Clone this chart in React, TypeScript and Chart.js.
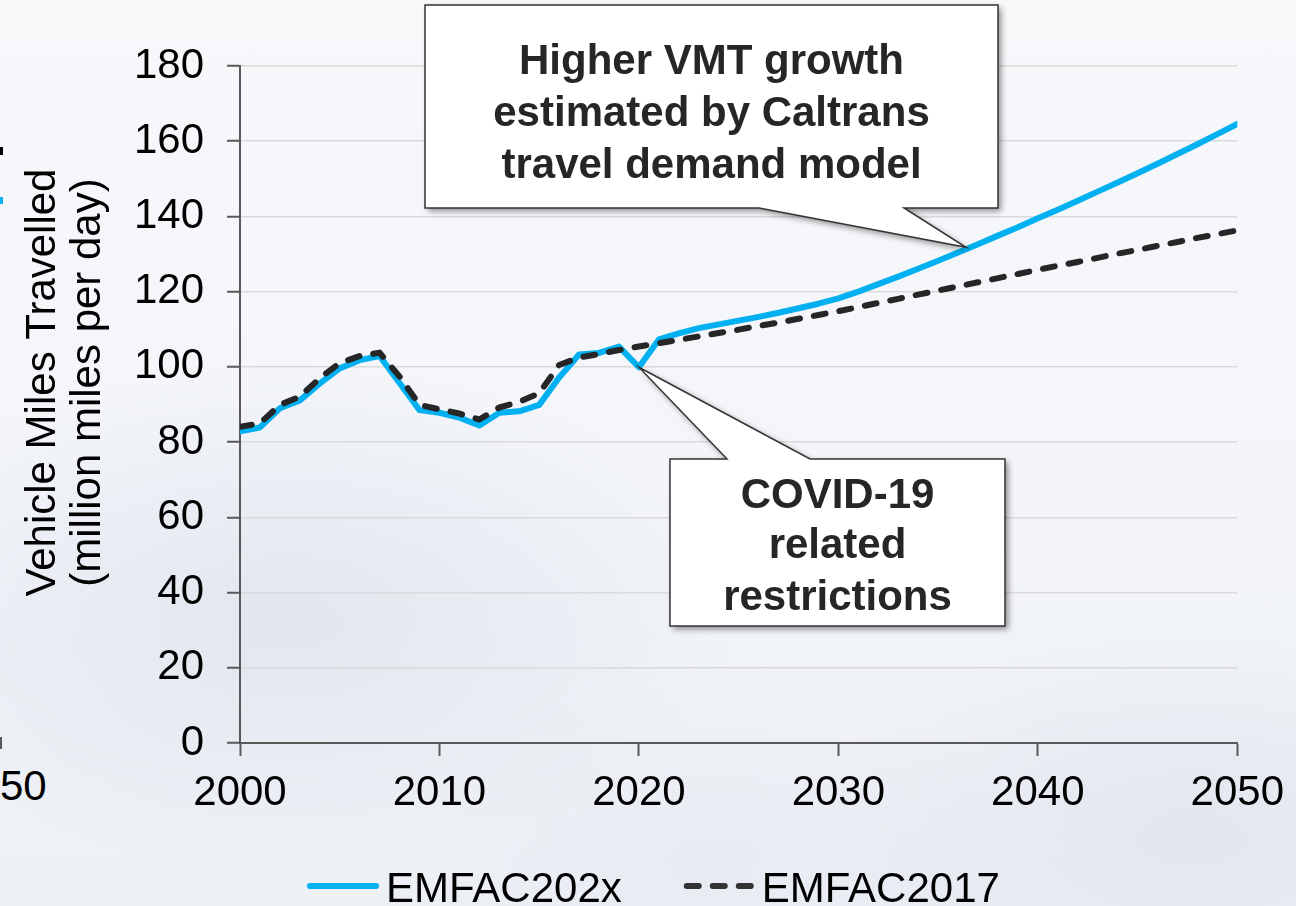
import React, { useEffect, useRef } from "react";
import { Chart, registerables } from "chart.js";

Chart.register(...registerables);

const YEARS = [
  2000, 2001, 2002, 2003, 2004, 2005, 2006, 2007, 2008, 2009,
  2010, 2011, 2012, 2013, 2014, 2015, 2016, 2017, 2018, 2019,
  2020, 2021, 2022, 2023, 2024, 2025, 2026, 2027, 2028, 2029,
  2030, 2031, 2032, 2033, 2034, 2035, 2036, 2037, 2038, 2039,
  2040, 2041, 2042, 2043, 2044, 2045, 2046, 2047, 2048, 2049,
  2050,
];

const EMFAC202X = [
  82.9, 83.9, 89.0, 91.1, 95.6, 99.6, 101.8, 102.9, 95.7, 88.5,
  87.8, 86.5, 84.4, 87.8, 88.2, 89.9, 97.2, 103.3, 103.7, 105.4,
  99.9, 107.3, 108.9, 110.3, 111.3, 112.3, 113.3, 114.4, 115.6, 116.8,
  118.2, 120.0, 122.0, 124.0, 126.1, 128.2, 130.4, 132.6, 134.9, 137.1,
  139.5, 141.8, 144.2, 146.6, 149.0, 151.5, 154.0, 156.6, 159.2, 161.9,
  164.6,
];

const EMFAC2017 = [
  84.1, 85.0, 89.9, 92.1, 97.0, 101.0, 102.9, 103.8, 97.4, 89.9,
  88.7, 87.6, 86.0, 89.2, 90.7, 93.0, 100.5, 102.5, 103.4, 104.5,
  105.4, 106.3, 107.2, 108.1, 109.0, 109.9, 110.9, 111.8, 112.8, 113.8,
  114.8, 115.9, 117.0, 118.1, 119.2, 120.3, 121.4, 122.5, 123.6, 124.7,
  125.8, 126.9, 127.9, 129.0, 130.1, 131.1, 132.2, 133.2, 134.3, 135.3,
  136.3,
];

const SERIES_NAMES = ["EMFAC202x", "EMFAC2017"];
const Y_TITLE = ["Vehicle Miles Travelled", "(million miles per day)"];
const X_MIN = 2000;
const X_MAX = 2050;
const X_STEP = 10;
const Y_MIN = 0;
const Y_MAX = 180;
const Y_STEP = 20;

const GROWTH_CALLOUT = ["Higher VMT growth", "estimated by Caltrans", "travel demand model"];
const GROWTH_TIP_YEAR = 2036.4;
const COVID_CALLOUT = ["COVID-19", "related", "restrictions"];
const COVID_YEAR = 2020;

const FONT = '"Liberation Sans", Arial, Helvetica, sans-serif';
const BLUE = "#00b0f0";
const DARK = "#262626";

function valueAt(year: number) {
  const i = Math.floor(year - YEARS[0]);
  const f = year - YEARS[i];
  const a = EMFAC202X[i];
  const b = EMFAC202X[Math.min(i + 1, EMFAC202X.length - 1)];
  return a + (b - a) * f;
}

type Box = { l: number; t: number; r: number; b: number };

function drawCallout(
  ctx: CanvasRenderingContext2D,
  box: Box,
  baseL: number,
  baseR: number,
  tip: { x: number; y: number },
  side: "top" | "bottom",
  lines: string[],
  baselines: number[]
) {
  ctx.save();
  ctx.beginPath();
  if (side === "bottom") {
    ctx.moveTo(box.l, box.t);
    ctx.lineTo(box.r, box.t);
    ctx.lineTo(box.r, box.b);
    ctx.lineTo(baseR, box.b);
    ctx.lineTo(tip.x, tip.y);
    ctx.lineTo(baseL, box.b);
    ctx.lineTo(box.l, box.b);
  } else {
    ctx.moveTo(box.l, box.t);
    ctx.lineTo(baseL, box.t);
    ctx.lineTo(tip.x, tip.y);
    ctx.lineTo(baseR, box.t);
    ctx.lineTo(box.r, box.t);
    ctx.lineTo(box.r, box.b);
    ctx.lineTo(box.l, box.b);
  }
  ctx.closePath();
  ctx.shadowColor = "rgba(0,0,0,0.45)";
  ctx.shadowBlur = 6;
  ctx.shadowOffsetX = 3;
  ctx.shadowOffsetY = 3;
  ctx.fillStyle = "#ffffff";
  ctx.fill();
  ctx.shadowColor = "transparent";
  ctx.lineWidth = 1.5;
  ctx.strokeStyle = "#333333";
  ctx.lineJoin = "miter";
  ctx.stroke();
  ctx.fillStyle = DARK;
  ctx.font = `bold 42px ${FONT}`;
  ctx.textAlign = "center";
  ctx.textBaseline = "alphabetic";
  const cx = (box.l + box.r) / 2;
  lines.forEach((ln, i) => ctx.fillText(ln, cx, baselines[i]));
  ctx.restore();
}

const overlayPlugin = {
  id: "overlay",
  afterDatasetsDraw(chart: any) {
    const { ctx, chartArea: ca, scales } = chart;
    const xs = scales.x;
    const ys = scales.y;

    // Y axis title (two lines, rotated)
    ctx.save();
    ctx.fillStyle = "#000";
    ctx.font = `42px ${FONT}`;
    ctx.textAlign = "center";
    ctx.textBaseline = "alphabetic";
    ctx.translate(ca.left - 185, (ca.top + ca.bottom) / 2 - 22);
    ctx.rotate(-Math.PI / 2);
    ctx.fillText(Y_TITLE[0], 0, 0);
    ctx.fillText(Y_TITLE[1], 0, 45);
    ctx.restore();

    // Growth callout
    const gTip = { x: xs.getPixelForValue(GROWTH_TIP_YEAR), y: ys.getPixelForValue(valueAt(GROWTH_TIP_YEAR)) - 2 };
    const gBox = { l: ca.left + 185, t: ca.top - 61, r: ca.left + 758, b: ca.top + 142 };
    drawCallout(ctx, gBox, ca.left + 519, ca.left + 664, gTip, "bottom", GROWTH_CALLOUT, [
      gBox.t + 69,
      gBox.t + 121,
      gBox.t + 173,
    ]);

    // COVID callout
    const ci = YEARS.indexOf(COVID_YEAR);
    const cTip = { x: xs.getPixelForValue(COVID_YEAR), y: ys.getPixelForValue(EMFAC202X[ci]) };
    const cBox = { l: ca.left + 430, t: ca.top + 393, r: ca.left + 765, b: ca.top + 560 };
    drawCallout(ctx, cBox, ca.left + 487, ca.left + 570, cTip, "top", COVID_CALLOUT, [
      cBox.t + 49,
      cBox.t + 99,
      cBox.t + 151,
    ]);

    // Legend
    ctx.save();
    ctx.font = `42px ${FONT}`;
    ctx.textBaseline = "alphabetic";
    ctx.textAlign = "left";
    const ly = chart.height - 20;
    const tb = chart.height - 4;
    const x0 = 307;
    ctx.lineCap = "round";
    ctx.lineWidth = 6;
    ctx.strokeStyle = BLUE;
    ctx.beginPath();
    ctx.moveTo(x0 + 3, ly);
    ctx.lineTo(x0 + 69, ly);
    ctx.stroke();
    ctx.fillStyle = "#000";
    ctx.fillText(SERIES_NAMES[0], x0 + 79, tb);
    const w1 = ctx.measureText(SERIES_NAMES[0]).width;
    const x1 = x0 + 79 + w1 + 62;
    ctx.strokeStyle = "#333333";
    ctx.setLineDash([12, 14]);
    ctx.beginPath();
    ctx.moveTo(x1 + 3, ly);
    ctx.lineTo(x1 + 67, ly);
    ctx.stroke();
    ctx.setLineDash([]);
    ctx.fillText(SERIES_NAMES[1], x1 + 78, tb);
    ctx.restore();
  },
};

export default function App() {
  const ref = useRef<HTMLCanvasElement | null>(null);

  useEffect(() => {
    if (!ref.current) return;
    Chart.defaults.font.family = FONT;
    const chart = new Chart(ref.current, {
      type: "line",
      data: {
        datasets: [
          {
            label: SERIES_NAMES[1],
            data: YEARS.map((yr, i) => ({ x: yr, y: EMFAC2017[i] })),
            borderColor: DARK,
            borderWidth: 6,
            borderDash: [12, 14],
            borderCapStyle: "round",
            borderJoinStyle: "round",
            pointRadius: 0,
            tension: 0,
            fill: false,
            order: 0,
          },
          {
            label: SERIES_NAMES[0],
            data: YEARS.map((yr, i) => ({ x: yr, y: EMFAC202X[i] })),
            borderColor: BLUE,
            borderWidth: 6,
            borderCapStyle: "round",
            borderJoinStyle: "round",
            pointRadius: 0,
            tension: 0,
            fill: false,
            order: 1,
          },
        ],
      },
      options: {
        responsive: false,
        animation: false,
        devicePixelRatio: 1,
        layout: { padding: { left: 0, right: 56, top: 66, bottom: 0 } },
        plugins: {
          legend: { display: false },
          tooltip: { enabled: false },
        },
        scales: {
          x: {
            type: "linear",
            min: X_MIN,
            max: X_MAX,
            afterFit: (s: any) => {
              s.height = 163;
            },
            ticks: {
              stepSize: X_STEP,
              color: "#000",
              font: { size: 42, lineHeight: 1.2 },
              padding: 12,
              callback: (v: any) => String(v),
              maxRotation: 0,
            },
            grid: {
              drawOnChartArea: false,
              drawTicks: true,
              tickLength: 13,
              tickColor: "#595959",
              tickWidth: 2,
            },
            border: { display: true, color: "#595959", width: 2 },
          },
          y: {
            min: Y_MIN,
            max: Y_MAX,
            afterFit: (s: any) => {
              s.width = 240;
            },
            ticks: {
              stepSize: Y_STEP,
              color: "#000",
              font: { size: 42 },
              padding: 23,
            },
            grid: {
              color: "#dadada",
              lineWidth: 1.5,
              drawTicks: true,
              tickLength: 13,
              tickColor: "#595959",
              tickWidth: 2,
            },
            border: { display: true, color: "#595959", width: 2 },
          },
        },
      },
      plugins: [overlayPlugin],
    });
    return () => chart.destroy();
  }, []);

  return (
    <div
      style={{
        position: "fixed",
        left: 0,
        top: 0,
        width: 1296,
        height: 906,
        overflow: "hidden",
        background:
          "radial-gradient(ellipse 35% 28% at 22% 68%, rgba(205,214,228,0.45), rgba(205,214,228,0) 100%)," +
          "radial-gradient(ellipse 30% 22% at 92% 92%, rgba(210,216,228,0.45), rgba(210,216,228,0) 100%)," +
          "radial-gradient(ellipse 25% 20% at 55% 95%, rgba(222,228,238,0.4), rgba(222,228,238,0) 100%)," +
          "linear-gradient(180deg, #f8f8fb 0%, #f3f5f9 55%, #edf0f5 100%)",
      }}
    >
      <div
        style={{
          position: "absolute",
          left: 0,
          top: 761,
          font: `42px ${FONT}`,
          lineHeight: "50px",
          color: "#000",
        }}
      >
        50
      </div>
      <div style={{ position: "absolute", left: 0, top: 737, width: 2, height: 12, background: "#595959" }} />
      <div style={{ position: "absolute", left: 0, top: 147, width: 3, height: 8, background: "#000" }} />
      <div style={{ position: "absolute", left: 0, top: 197, width: 3, height: 7, background: BLUE }} />
      <canvas ref={ref} width={1296} height={906} style={{ position: "absolute", left: 0, top: 0 }} />
    </div>
  );
}
